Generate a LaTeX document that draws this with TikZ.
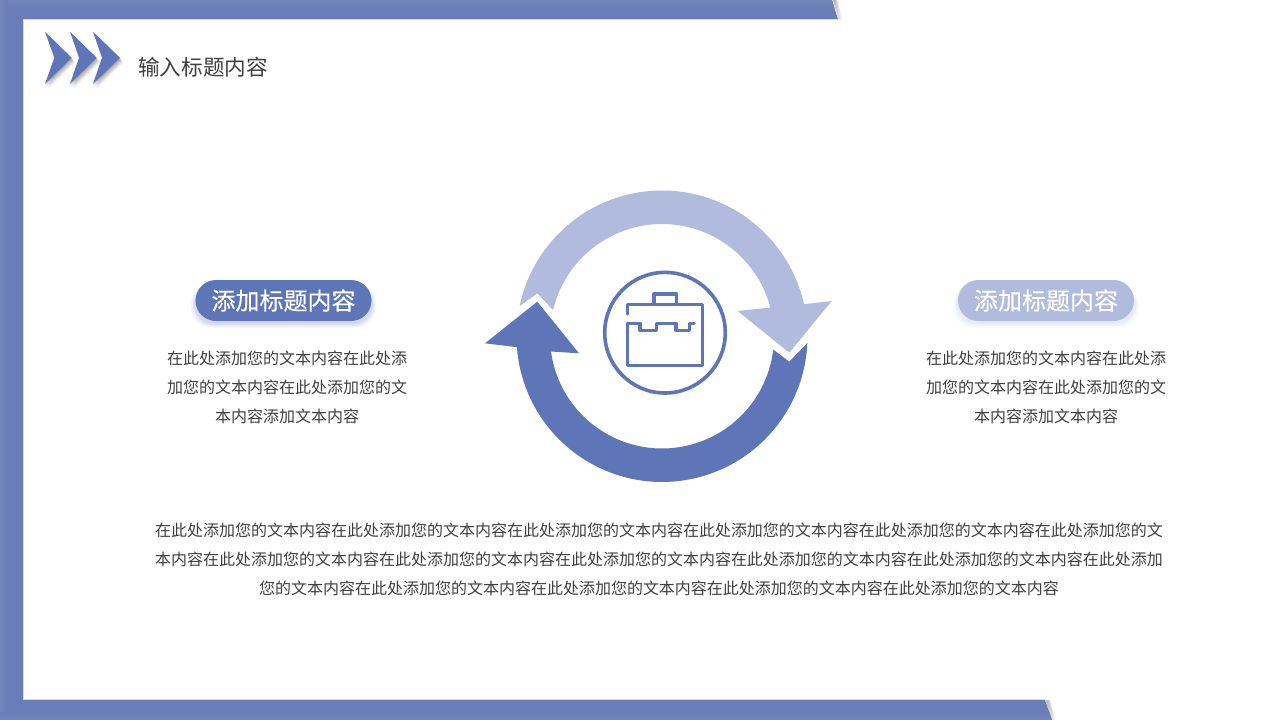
\documentclass[tikz,border=0pt]{standalone}
\usepackage{fontspec}
\setmainfont{Noto Sans CJK SC}
\newfontfamily\headfont[FakeBold=0.35]{Noto Sans CJK SC}
\definecolor{framec}{HTML}{6A7DB6}
\definecolor{framelt}{HTML}{7486BC}
\definecolor{darkb}{HTML}{5E75B8}
\definecolor{lightb}{HTML}{B0BBDD}
\definecolor{txt}{HTML}{404040}
\tikzset{
  bodytext/.style={text=txt,align=center,inner sep=0pt,font=\fontsize{16}{29}\selectfont},
  pilltext/.style={text=white,inner sep=0pt,font=\headfont\fontsize{24}{28}\selectfont},
  titletext/.style={text=txt,inner sep=0pt,font=\fontsize{21.6}{26}\selectfont},
  iconline/.style={draw=darkb,line width=3.4pt,line cap=round,line join=round},
}
\newcommand{\softpill}[2]{%
  \foreach \g/\o in {5/0.04,4/0.05,3/0.06,2/0.07,1/0.08}{
    \fill[#2,opacity=\o,rounded corners=20.5pt] (#1-\g,280+4) rectangle (#1+176+\g,321+2+\g);
  }
  \fill[#2,rounded corners=20.5pt] (#1,280) rectangle (#1+176,321);
}
\newcommand{\chev}[3]{%
  \foreach \g/\h/\o in {3.5/5/0.05,2.8/4/0.06,2.1/3/0.08,1.4/2/0.09,0.7/1/0.1}{
    \fill[black,opacity=\o] (#1+\g,31.7+\h) -- (#3+\g,57.8+\h) -- (#1+\g,84+\h) -- (#2+\g,57.8+\h) -- cycle;
  }
  \fill[darkb] (#1,31.7) -- (#3,57.8) -- (#1,84) -- (#2,57.8) -- cycle;
}
\begin{document}
\begin{tikzpicture}[x=1pt,y=-1pt]
\useasboundingbox (0,0) rectangle (1280,720);
\fill[white] (0,0) rectangle (1280,720);
% frame shadows
\shade[left color=black!30,right color=white] (833,0) -- (838.5,19.5) -- (842.5,19.5) -- (837,0) -- cycle;
\shade[left color=black!30,right color=white] (1045.5,700) -- (1052,720) -- (1056,720) -- (1049.5,700) -- cycle;
% frame
\fill[framec] (0,0) -- (832,0) -- (838,19.5) -- (23.5,19.5) -- (23.5,700) -- (1045,700) -- (1052,720) -- (0,720) -- cycle;
\shade[top color=framelt,bottom color=framec] (0,0) -- (832,0) -- (834.4,8) -- (0,8) -- cycle;
\shade[left color=framelt,right color=framec] (0,0) rectangle (8,720);
\shade[top color=framec,bottom color=framelt] (0,712) -- (1049.2,712) -- (1052,720) -- (0,720) -- cycle;
\draw[color=framec!30,line width=0.7pt] (837.6,19.8) -- (23.8,19.8) -- (23.8,699.8) -- (1045,699.8);
% chevrons
\chev{45}{54.3}{71.7}
\chev{70}{79}{96.7}
\chev{93}{102}{120}
\node[titletext] (title) at (203,67) {输入标题内容};
% light arrow
\fill[lightb] plot[domain=191.9:347.4,samples=90] ({662+145.5*cos(\x)},{336+145.5*sin(\x)})
  -- (831.7,301) -- (789.3,352.7) -- (737.7,311)
  -- plot[domain=345.3:193.4,samples=90] ({662+112*cos(\x)},{336+112*sin(\x)})
  -- (537.3,293.3) -- cycle;
% dark arrow
\fill[darkb] plot[domain=2.5:175.8,samples=90] ({662+145.5*cos(\x)},{336.5+145.5*sin(\x)})
  -- (485,343.3) -- (537.3,301.7) -- (579,353.3)
  -- plot[domain=172.3:6.7,samples=90] ({662+112*cos(\x)},{336.5+112*sin(\x)})
  -- (789.3,361.7) -- cycle;
% icon
\draw[iconline,line width=3.6pt] (665,332.7) circle[radius=60.3];
\draw[iconline] (627.7,314) -- (627.7,304.5) -- (702.7,304.5) -- (702.7,365.7) -- (627.7,365.7) -- (627.7,323.3);
\draw[iconline] (654,304.5) -- (654,294) -- (676.7,294) -- (676.7,304.5);
\draw[iconline] (627.7,323.3) -- (640,323.3) -- (640,330.7) -- (656.7,330.7) -- (656.7,323.3) -- (676,323.3) -- (676,330.7) -- (689.3,330.7) -- (689.3,323.3) -- (694,323.3);
% pills
\softpill{195.5}{darkb}
\softpill{958}{lightb}
\node[pilltext] (lefthead) at (283.5,300.5) {添加标题内容};
\node[pilltext] (righthead) at (1046,300.5) {添加标题内容};
% texts
\node[bodytext] (leftbody) at (287,387) {在此处添加您的文本内容在此处添\\加您的文本内容在此处添加您的文\\本内容添加文本内容};
\node[bodytext] (rightbody) at (1046,387) {在此处添加您的文本内容在此处添\\加您的文本内容在此处添加您的文\\本内容添加文本内容};
\node[bodytext] (bottombody) at (659,559) {在此处添加您的文本内容在此处添加您的文本内容在此处添加您的文本内容在此处添加您的文本内容在此处添加您的文本内容在此处添加您的文\\本内容在此处添加您的文本内容在此处添加您的文本内容在此处添加您的文本内容在此处添加您的文本内容在此处添加您的文本内容在此处添加\\您的文本内容在此处添加您的文本内容在此处添加您的文本内容在此处添加您的文本内容在此处添加您的文本内容};
\end{tikzpicture}
\end{document}
